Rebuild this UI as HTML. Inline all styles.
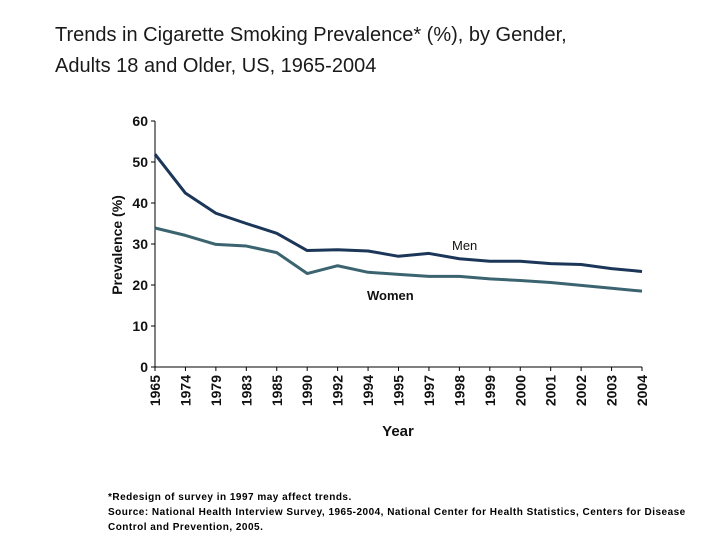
<!DOCTYPE html>
<html><head><meta charset="utf-8"><style>
body{margin:0;background:#fff;width:720px;height:540px;overflow:hidden;font-family:"Liberation Sans",sans-serif}
.t{position:absolute;left:55px;top:20px;font-size:20px;line-height:31px;color:#1a1a1a}
.f{position:absolute;left:108px;top:490px;font-size:10px;letter-spacing:0.49px;font-weight:bold;line-height:15px;color:#000;white-space:nowrap}
</style></head><body>
<div class="t">Trends in Cigarette Smoking Prevalence* (%), by Gender,<br>Adults 18 and Older, US, 1965-2004</div>
<svg id="c" width="720" height="540" style="position:absolute;left:0;top:0"></svg>
<div class="f">*Redesign of survey in 1997 may affect trends.<br>Source: National Health Interview Survey, 1965-2004, National Center for Health Statistics, Centers for Disease<br>Control and Prevention, 2005.</div>
<script>
const years=["1965","1974","1979","1983","1985","1990","1992","1994","1995","1997","1998","1999","2000","2001","2002","2003","2004"];
const men=[51.9,42.4,37.5,35.0,32.6,28.4,28.6,28.3,27.0,27.7,26.4,25.8,25.8,25.2,25.0,24.0,23.3];
const women=[33.9,32.1,29.9,29.5,27.9,22.8,24.7,23.1,22.6,22.1,22.1,21.5,21.1,20.6,19.9,19.2,18.5];
const yTicks=[0,10,20,30,40,50,60];
const NS="http://www.w3.org/2000/svg",svg=document.getElementById('c');
const X0=155,X1=642,Y0=367,Y1=121;
const xs=i=>X0+(X1-X0)*i/(years.length-1);
const ys=v=>Y0-(Y0-Y1)*v/60;
function mk(t,a,txt){const e=document.createElementNS(NS,t);for(const k in a)e.setAttribute(k,a[k]);if(txt!=null)e.textContent=txt;svg.appendChild(e);return e;}
let e=mk('line',{x1:X0,y1:Y1,x2:X0,y2:Y0,stroke:'#000','stroke-width':1});

e=mk('line',{x1:X0,y1:Y0,x2:X1,y2:Y0,stroke:'#000','stroke-width':1});

yTicks.forEach(v=>{
 mk('line',{x1:X0-4,y1:ys(v),x2:X0,y2:ys(v),stroke:'#000'});
 e=mk('text',{x:X0-7,y:ys(v)+5,'text-anchor':'end','font-size':14,'font-weight':'bold',fill:'#111'},v);
 
});
years.forEach((y,i)=>{
 mk('line',{x1:xs(i),y1:Y0,x2:xs(i),y2:Y0+4,stroke:'#000'});
 e=mk('text',{x:0,y:0,transform:`translate(${xs(i)+5},${Y0+8}) rotate(-90)`,'text-anchor':'end','font-size':14,'font-weight':'bold',fill:'#111'},y);
 
});
function line(d,c,n){const p=mk('polyline',{points:d.map((v,i)=>xs(i)+','+ys(v)).join(' '),fill:'none',stroke:c,'stroke-width':3,'stroke-linejoin':'round'});
 }
line(women,'#3b6470','women-line');
line(men,'#1b3658','men-line');
e=mk('text',{x:452,y:250,'font-size':13,fill:'#111'},'Men');

e=mk('text',{x:367,y:300,'font-size':13,'font-weight':'bold',fill:'#111'},'Women');

e=mk('text',{x:0,y:0,transform:'translate(122,245) rotate(-90)','text-anchor':'middle','font-size':14,'font-weight':'bold',fill:'#111'},'Prevalence (%)');

e=mk('text',{x:398,y:436,'text-anchor':'middle','font-size':15,'font-weight':'bold',fill:'#111'},'Year');

</script>
</body></html>
